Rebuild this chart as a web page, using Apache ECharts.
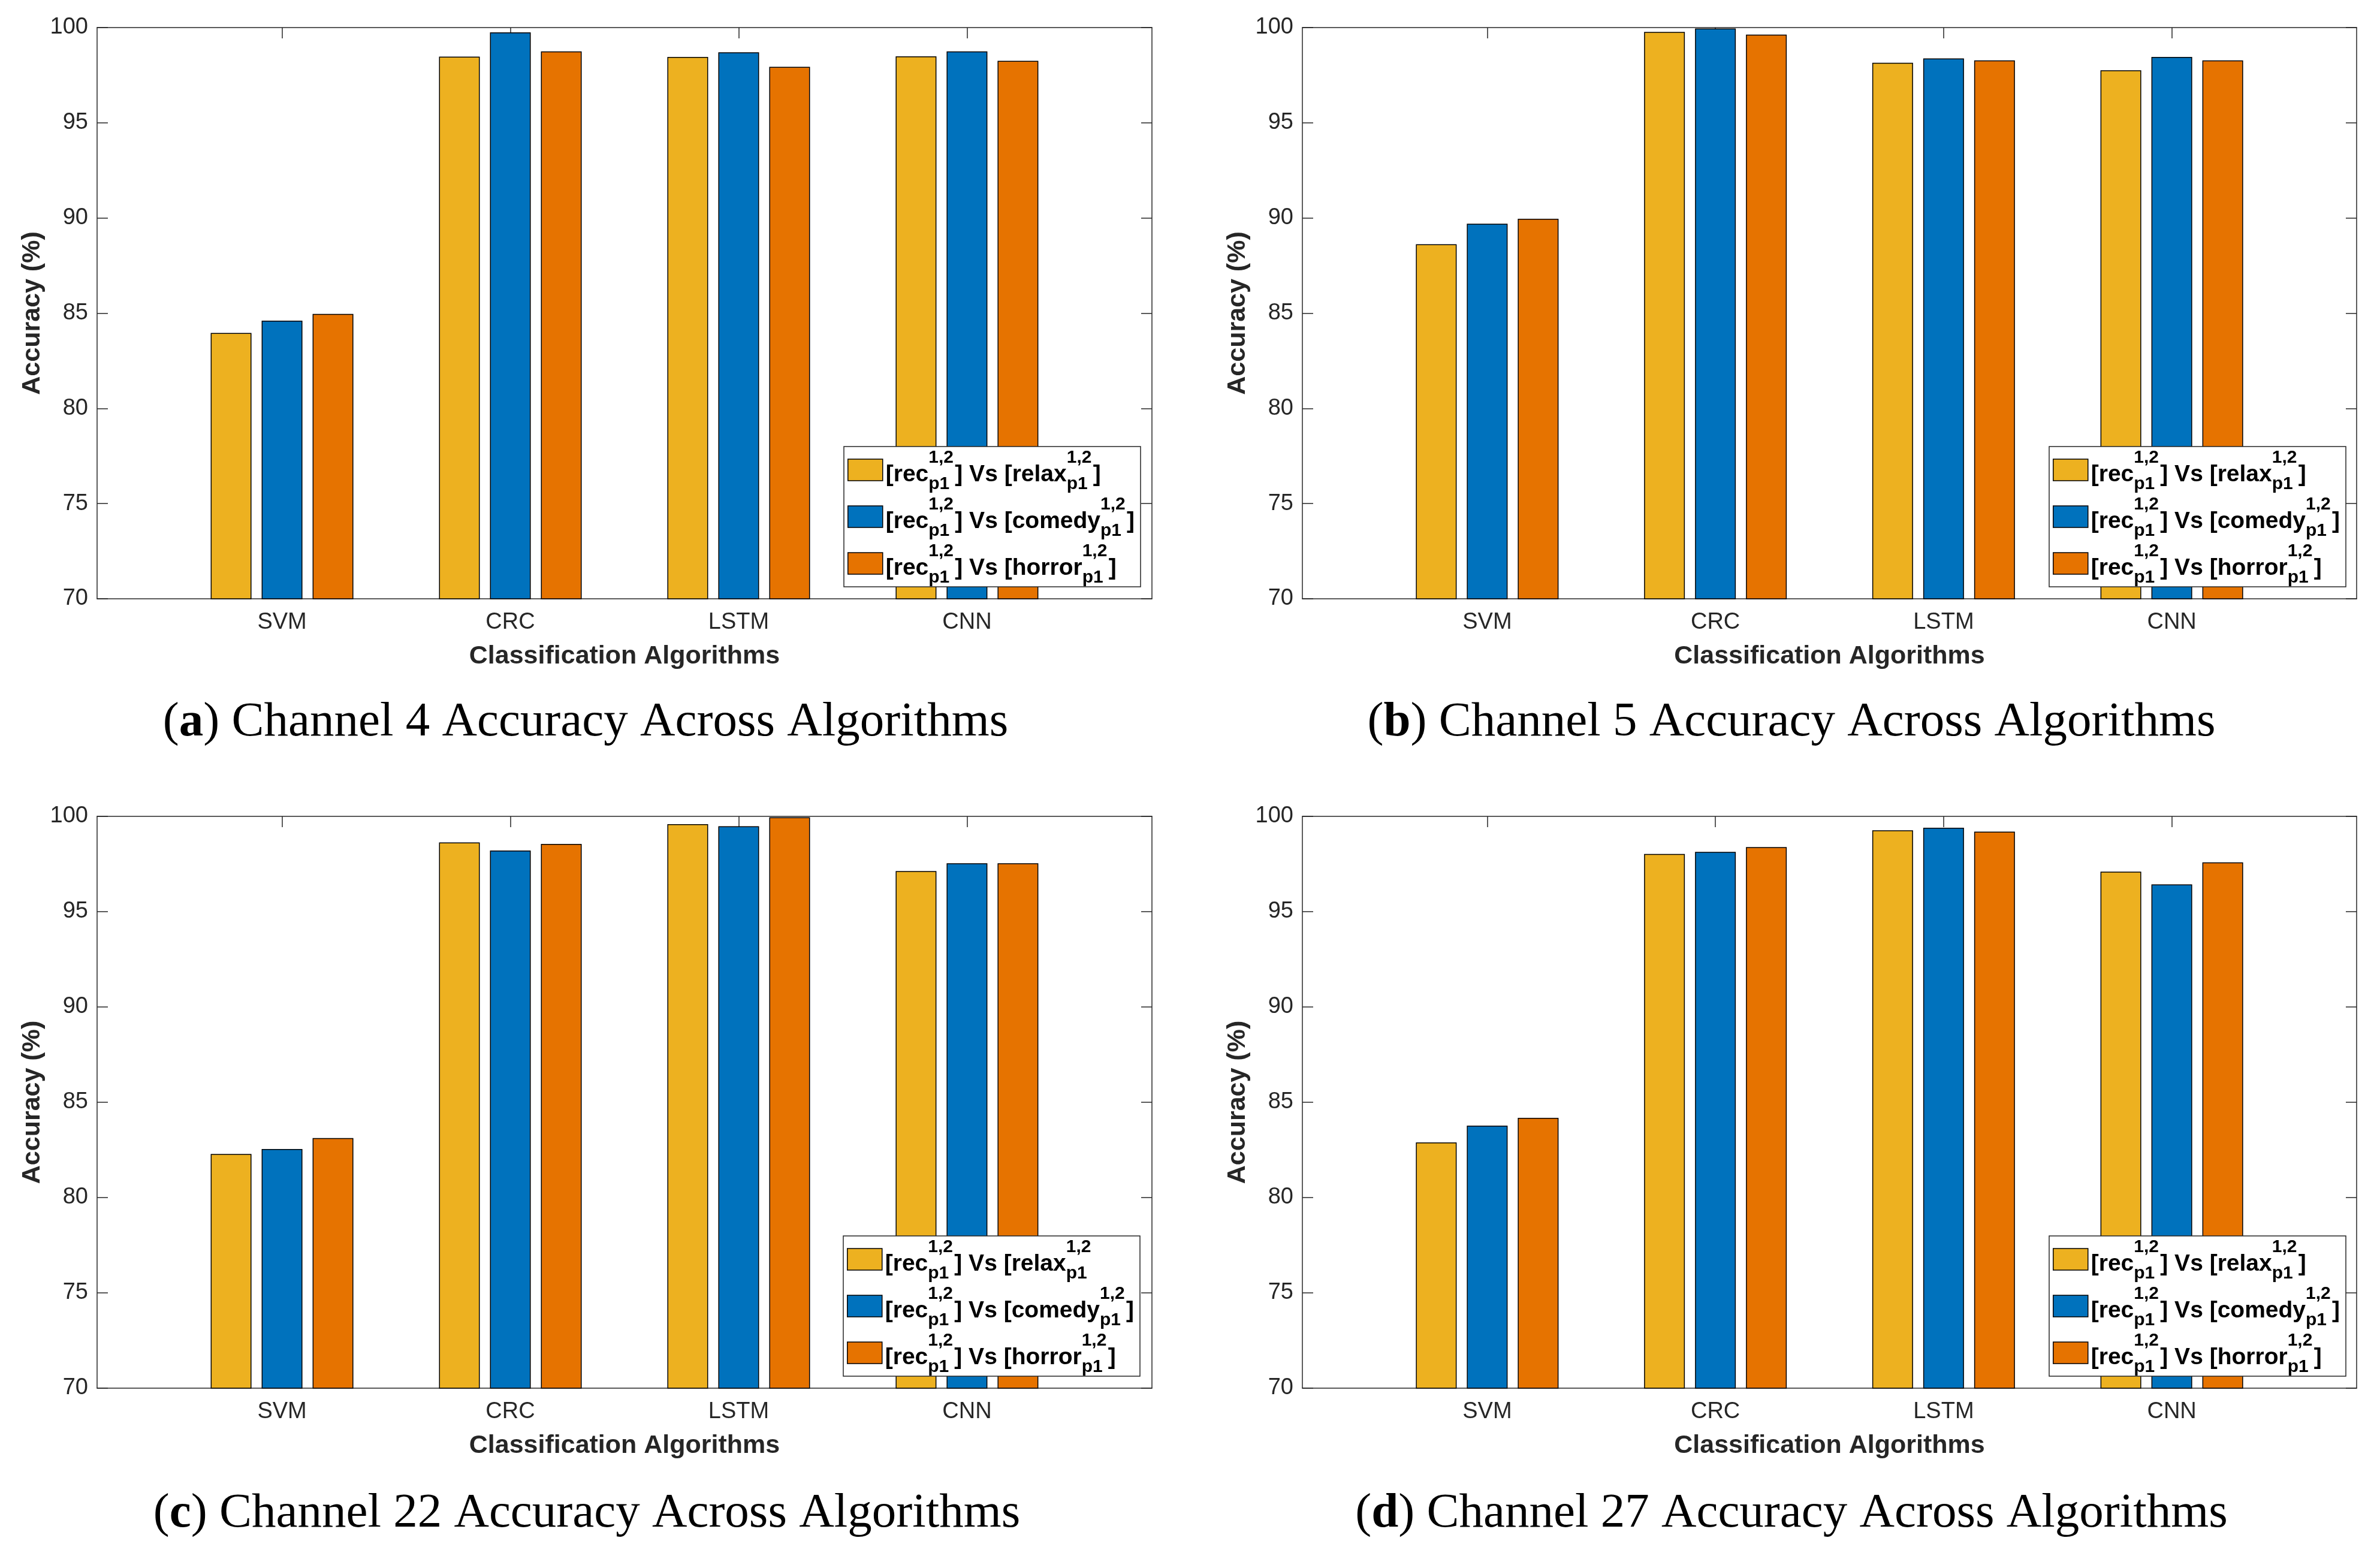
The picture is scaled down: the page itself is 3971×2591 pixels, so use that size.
<!DOCTYPE html>
<html>
<head>
<meta charset="utf-8">
<script src="https://cdn.jsdelivr.net/npm/echarts@6/dist/echarts.min.js"></script>
<style>
html,body{margin:0;padding:0;background:#fff;}
#chart{width:3971px;height:2591px;}
</style>
</head>
<body>
<div id="chart"></div>
<script>
// ---------- data ----------
var categories = ['SVM', 'CRC', 'LSTM', 'CNN'];
var seriesNames = ['relax', 'comedy', 'horror'];
var yTicks = [70, 75, 80, 85, 90, 95, 100];

var ch4Relax  = [83.96, 98.47, 98.46, 98.49];
var ch4Comedy = [84.61, 99.75, 98.70, 98.75];
var ch4Horror = [84.96, 98.75, 97.94, 98.25];

var ch5Relax  = [88.62, 99.77, 98.15, 97.76];
var ch5Comedy = [89.70, 99.95, 98.38, 98.46];
var ch5Horror = [89.96, 99.63, 98.28, 98.28];

var ch22Relax  = [82.29, 98.63, 99.59, 97.13];
var ch22Comedy = [82.55, 98.21, 99.48, 97.54];
var ch22Horror = [83.12, 98.55, 99.95, 97.54];

var ch27Relax  = [82.89, 98.03, 99.27, 97.10];
var ch27Comedy = [83.77, 98.14, 99.40, 96.43];
var ch27Horror = [84.18, 98.39, 99.20, 97.59];

// legend texts: [main, sup, sub, main, sup, sub, main]
var legendA = [
  ['[rec', '1,2', 'p1', '] Vs [relax', '1,2', 'p1', ']'],
  ['[rec', '1,2', 'p1', '] Vs [comedy', '1,2', 'p1', ']'],
  ['[rec', '1,2', 'p1', '] Vs [horror', '1,2', 'p1', ']']
];
var legendC = [
  ['[rec', '1,2', 'p1', '] Vs [relax', '1,2', 'p1', ''],
  ['[rec', '1,2', 'p1', '] Vs [comedy', '1,2', 'p1', ']'],
  ['[rec', '1,2', 'p1', '] Vs [horror', '1,2', 'p1', ']']
];

var captionLetters = ['a', 'b', 'c', 'd'];
var captionTexts = [
  ') Channel 4 Accuracy Across Algorithms',
  ') Channel 5 Accuracy Across Algorithms',
  ') Channel 22 Accuracy Across Algorithms',
  ') Channel 27 Accuracy Across Algorithms'
];
var xTitle = 'Classification Algorithms';
var yTitle = 'Accuracy (%)';

// ---------- styling / layout ----------
var colors = ['#EDB120', '#0072BD', '#E67300'];
var axisColor = '#262626';
var sans = '"Liberation Sans", Arial, Helvetica, sans-serif';
var serif = '"Liberation Serif", "Times New Roman", serif';

var panels = [
  {left: 162, top: 46, width: 1760, height: 953, data: [ch4Relax, ch4Comedy, ch4Horror], legend: legendA, legLeft: 1408, legTop: 745, capX: 977, capY: 1206},
  {left: 2173, top: 46, width: 1759, height: 953, data: [ch5Relax, ch5Comedy, ch5Horror], legend: legendA, legLeft: 3419, legTop: 745, capX: 2989, capY: 1206},
  {left: 162, top: 1362, width: 1760, height: 954, data: [ch22Relax, ch22Comedy, ch22Horror], legend: legendC, legLeft: 1407, legTop: 2062, capX: 979, capY: 2526},
  {left: 2173, top: 1362, width: 1759, height: 954, data: [ch27Relax, ch27Comedy, ch27Horror], legend: legendA, legLeft: 3419, legTop: 2062, capX: 2989, capY: 2526}
];

var catPos = categories.map(function (c, i) { return i + 1; });

var grids = [], xAxes = [], yAxes = [], series = [], legends = [], graphics = [];

function richLegend(parts) {
  var s = '{m|' + parts[0] + '}{sup|' + parts[1] + '}{sub|' + parts[2] + '}{m|' + parts[3] + '}{sup|' + parts[4] + '}{sub|' + parts[5] + '}';
  if (parts[6]) s += '{m|' + parts[6] + '}';
  return s;
}

panels.forEach(function (p, gi) {
  grids.push({left: p.left, top: p.top, width: p.width, height: p.height, containLabel: false});
  var xBase = {
    type: 'value', gridIndex: gi, min: 0.19, max: 4.81,
    axisLine: {show: true, onZero: false, lineStyle: {color: axisColor, width: 1.5}},
    splitLine: {show: false}
  };
  xAxes.push(Object.assign({}, xBase, {
    position: 'bottom',
    axisTick: {show: true, inside: true, length: 18, customValues: catPos, lineStyle: {color: axisColor, width: 1.5}},
    axisLabel: {show: true, customValues: catPos, margin: 21, fontSize: 38, fontFamily: sans, color: axisColor,
      formatter: function (v) { return categories[Math.round(v) - 1] || ''; }},
    name: xTitle, nameLocation: 'middle', nameGap: 75,
    nameTextStyle: {fontSize: 43, fontWeight: 'bold', fontFamily: sans, color: axisColor}
  }));
  xAxes.push(Object.assign({}, xBase, {
    position: 'top',
    axisTick: {show: true, inside: true, length: 18, customValues: catPos, lineStyle: {color: axisColor, width: 1.5}},
    axisLabel: {show: false}
  }));
  var yBase = {
    type: 'value', gridIndex: gi, min: yTicks[0], max: yTicks[yTicks.length - 1], interval: yTicks[1] - yTicks[0],
    axisLine: {show: true, onZero: false, lineStyle: {color: axisColor, width: 1.5}},
    axisTick: {show: true, inside: true, length: 18, lineStyle: {color: axisColor, width: 1.5}},
    splitLine: {show: false}
  };
  yAxes.push(Object.assign({}, yBase, {
    position: 'left',
    axisLabel: {show: true, margin: 15, fontSize: 38, fontFamily: sans, color: axisColor},
    name: yTitle, nameLocation: 'middle', nameGap: 86,
    nameTextStyle: {fontSize: 43, fontWeight: 'bold', fontFamily: sans, color: axisColor}
  }));
  yAxes.push(Object.assign({}, yBase, {
    position: 'right',
    axisLabel: {show: false}
  }));

  p.data.forEach(function (arr, si) {
    series.push({
      type: 'bar', name: seriesNames[si],
      xAxisIndex: gi * 2, yAxisIndex: gi * 2,
      barWidth: 68, barGap: '25%',
      itemStyle: {color: colors[si], borderColor: '#000', borderWidth: 1.5},
      data: categories.map(function (c, i) { return [catPos[i], arr[i]]; }),
      clip: true
    });
  });

  var labels = p.legend;
  legends.push({
    orient: 'vertical', left: p.legLeft, top: p.legTop,
    data: seriesNames,
    itemWidth: 58, itemHeight: 36, itemGap: 0,
    padding: [0, 10, 0, 6],
    backgroundColor: '#fff', borderColor: axisColor, borderWidth: 1.5, borderRadius: 0,
    selectedMode: false,
    icon: 'rect',
    itemStyle: {borderColor: '#000', borderWidth: 1.5},
    formatter: function (name) { return richLegend(labels[seriesNames.indexOf(name)]); },
    textStyle: {
      fontFamily: sans, fontSize: 39, fontWeight: 'bold', color: '#000',
      rich: {
        m: {fontFamily: sans, fontSize: 39, fontWeight: 'bold', color: '#000', lineHeight: 60, padding: [16, 0, 0, 0]},
        sup: {fontFamily: sans, fontSize: 30, fontWeight: 'bold', color: '#000', lineHeight: 30, width: 0, padding: [0, 0, 40, 0]},
        sub: {fontFamily: sans, fontSize: 30, fontWeight: 'bold', color: '#000', lineHeight: 30, width: 44, padding: [48, 0, 0, 0]}
      }
    }
  });

  graphics.push({
    type: 'text', x: p.capX, y: p.capY,
    style: {
      text: '{n|(}{b|' + captionLetters[gi] + '}{n|' + captionTexts[gi] + '}',
      align: 'center', verticalAlign: 'middle',
      rich: {
        n: {fontFamily: serif, fontSize: 81, fill: '#000'},
        b: {fontFamily: serif, fontSize: 81, fontWeight: 'bold', fill: '#000'}
      }
    }
  });
});

var chart = echarts.init(document.getElementById('chart'), null, {renderer: 'canvas', width: 3971, height: 2591});
chart.setOption({
  backgroundColor: '#ffffff',
  animation: false,
  grid: grids,
  xAxis: xAxes,
  yAxis: yAxes,
  legend: legends,
  series: series,
  graphic: graphics
});
</script>
</body>
</html>
